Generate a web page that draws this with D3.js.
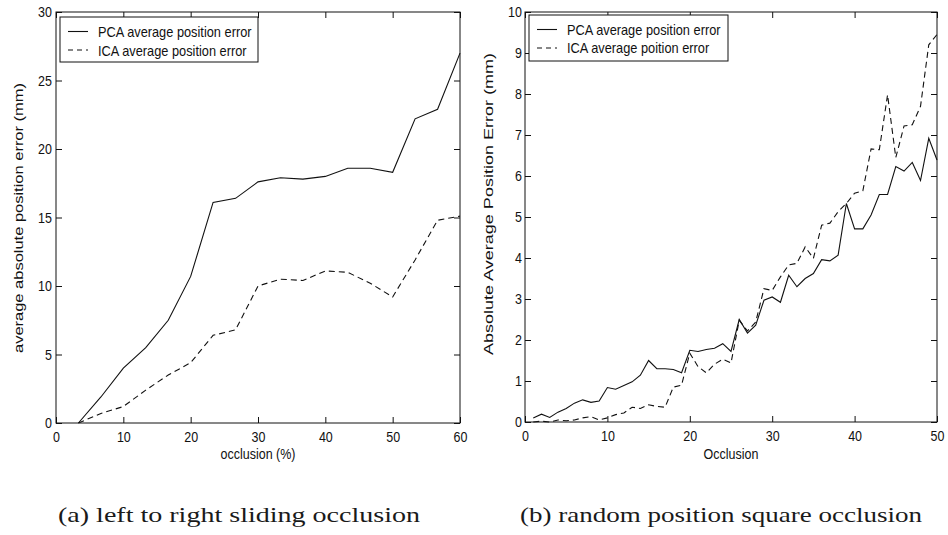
<!DOCTYPE html>
<html><head><meta charset="utf-8">
<script src="https://cdn.jsdelivr.net/npm/d3@7/dist/d3.min.js"></script>
<style>
body{margin:0;background:#fff}
svg{display:block;background:#fff}
text{font-family:"Liberation Sans",Arial,Helvetica,sans-serif;fill:#111}
.st{transform-box:fill-box;transform-origin:center;transform:scaleY(1.2)}
.tick text{font-size:12.5px}
.cap{font-family:"Liberation Serif","Times New Roman","DejaVu Serif",serif;font-size:21px;fill:#1a1a1a}
</style></head><body>
<svg id="c" width="948" height="535"></svg>
<script>
// ---------- data: panel (a) ----------
const leftX   = [3.33, 6.67, 10, 13.33, 16.67, 20, 23.33, 26.67, 30, 33.33, 36.67, 40, 43.33, 46.67, 50, 53.33, 56.67, 60];
const leftPCA = [0, 1.9, 4.0, 5.5, 7.5, 10.7, 16.1, 16.4, 17.6, 17.9, 17.8, 18.0, 18.6, 18.6, 18.3, 22.2, 22.9, 27.0];
const leftICA = [0, 0.7, 1.2, 2.4, 3.5, 4.4, 6.4, 6.8, 10.0, 10.5, 10.4, 11.1, 11.0, 10.2, 9.2, 11.9, 14.8, 15.1];
const leftXTicks = [0, 10, 20, 30, 40, 50, 60];
const leftYTicks = [0, 5, 10, 15, 20, 25, 30];

// ---------- data: panel (b) ----------
const rightX = [1,2,3,4,5,6,7,8,9,10,11,12,13,14,15,16,17,18,19,20,21,22,23,24,25,26,27,28,29,30,31,32,33,34,35,36,37,38,39,40,41,42,43,44,45,46,47,48,49,50];
const rightPCA = [0.10,0.19,0.11,0.24,0.33,0.46,0.54,0.48,0.51,0.84,
                  0.80,0.89,0.98,1.14,1.50,1.30,1.30,1.28,1.20,1.75,
                  1.72,1.77,1.80,1.91,1.72,2.50,2.17,2.36,2.97,3.05,
                  2.92,3.58,3.30,3.50,3.62,3.96,3.93,4.07,5.33,4.71,
                  4.71,5.05,5.55,5.55,6.23,6.12,6.33,5.89,6.92,6.39];
const rightICA = [0.00,0.02,0.00,0.05,0.03,0.05,0.10,0.13,0.05,0.10,
                  0.18,0.22,0.36,0.33,0.42,0.38,0.36,0.85,0.90,1.68,
                  1.35,1.20,1.41,1.53,1.44,2.48,2.22,2.44,3.25,3.21,
                  3.54,3.83,3.87,4.27,3.99,4.80,4.85,5.13,5.33,5.58,
                  5.64,6.66,6.64,7.98,6.45,7.22,7.25,7.70,9.20,9.45];
const rightXTicks = [0, 10, 20, 30, 40, 50];
const rightYTicks = [0,1,2,3,4,5,6,7,8,9,10];

const seriesNames = ["PCA average position error", "ICA average position error"];
const seriesNamesB = ["PCA average position error", "ICA average poition error"];

const svg = d3.select("#c");

function panel(cfg){
  const x = d3.scaleLinear().domain(cfg.xDomain).range(cfg.xRange);
  const y = d3.scaleLinear().domain(cfg.yDomain).range(cfg.yRange);
  const [x0,x1] = cfg.xRange, [y0,y1] = cfg.yRange;
  const g = svg.append("g");
  const tk = 6;
  const fix = sel => { sel.select(".domain").remove(); sel.selectAll("line").attr("stroke","#111"); sel.selectAll("text").attr("class","st"); };
  g.append("g").attr("transform",`translate(0,${y0})`)
    .call(d3.axisBottom(x).tickValues(cfg.xTicks).tickSizeInner(-tk).tickSizeOuter(0).tickPadding(9)).call(fix);
  g.append("g").attr("transform",`translate(0,${y1})`)
    .call(d3.axisTop(x).tickValues(cfg.xTicks).tickSizeInner(-tk).tickSizeOuter(0).tickFormat("")).call(fix);
  g.append("g").attr("transform",`translate(${x0},0)`)
    .call(d3.axisLeft(y).tickValues(cfg.yTicks).tickSizeInner(-tk).tickSizeOuter(0).tickPadding(cfg.yPad)).call(fix);
  g.append("g").attr("transform",`translate(${x1},0)`)
    .call(d3.axisRight(y).tickValues(cfg.yTicks).tickSizeInner(-tk).tickSizeOuter(0).tickFormat("")).call(fix);
  g.append("rect").attr("x",x0).attr("y",y1).attr("width",x1-x0).attr("height",y0-y1)
    .attr("fill","none").attr("stroke","#111").attr("stroke-width",1);

  const line = d3.line().x(d=>x(d[0])).y(d=>y(d[1]));
  g.append("path").datum(cfg.xs.map((v,i)=>[v,cfg.a[i]])).attr("d",line)
    .attr("fill","none").attr("stroke","#111").attr("stroke-width",1.1);
  g.append("path").datum(cfg.xs.map((v,i)=>[v,cfg.b[i]])).attr("d",line)
    .attr("fill","none").attr("stroke","#111").attr("stroke-width",1.1).attr("stroke-dasharray","6,4");

  // legend
  const L = cfg.legend;
  g.append("rect").attr("x",L.x).attr("y",L.y).attr("width",L.w).attr("height",L.h)
    .attr("fill","#fff").attr("stroke","#111").attr("stroke-width",1);
  cfg.names.forEach((n,i)=>{
    const yy = L.rows[i];
    g.append("line").attr("x1",L.lx0).attr("x2",L.lx1).attr("y1",yy).attr("y2",yy)
      .attr("stroke","#111").attr("stroke-width",1.1).attr("stroke-dasharray", i? "5,4" : null);
    g.append("text").attr("class","st").attr("x",L.tx).attr("y",yy).attr("dy","0.36em")
      .style("font-size","12.8px").text(n);
  });

  // axis titles
  g.append("text").attr("class","st").attr("x",(x0+x1)/2).attr("y",cfg.xlabY)
    .attr("text-anchor","middle").style("font-size","12.5px").text(cfg.xlabel);
  g.append("text").attr("transform",`translate(${cfg.ylab.x},${cfg.ylab.y}) rotate(-90)`)
    .attr("text-anchor","middle").attr("dy","0.35em").style("font-size","13px")
    .attr("textLength",cfg.ylab.len).attr("lengthAdjust","spacingAndGlyphs").text(cfg.ylabel);

  // caption
  g.append("text").attr("class","cap").attr("x",cfg.cap.x).attr("y",cfg.cap.y)
    .attr("text-anchor","middle").attr("textLength",cfg.cap.len).attr("lengthAdjust","spacingAndGlyphs")
    .text(cfg.caption);
}

panel({
  xDomain:[0,60], xRange:[56,460], yDomain:[0,30], yRange:[423,12],
  xTicks:leftXTicks, yTicks:leftYTicks, yPad:4,
  xs:leftX, a:leftPCA, b:leftICA, names:seriesNames,
  legend:{x:60,y:17,w:198,h:45,lx0:68,lx1:88,tx:98,rows:[31.5,50]},
  xlabel:"occlusion (%)", xlabY:458,
  ylabel:"average absolute position error (mm)", ylab:{x:18,y:218,len:270},
  caption:"(a) left to right sliding occlusion", cap:{x:239,y:522,len:362}
});
panel({
  xDomain:[0,50], xRange:[525,937], yDomain:[0,10], yRange:[422,12],
  xTicks:rightXTicks, yTicks:rightYTicks, yPad:3,
  xs:rightX, a:rightPCA, b:rightICA, names:seriesNamesB,
  legend:{x:529,y:15,w:199,h:46,lx0:537,lx1:557,tx:567,rows:[29.5,48]},
  xlabel:"Occlusion", xlabY:458,
  ylabel:"Absolute Average Position Error (mm)", ylab:{x:488,y:204,len:302},
  caption:"(b) random position square occlusion", cap:{x:721,y:522,len:402}
});
</script>
</body></html>
